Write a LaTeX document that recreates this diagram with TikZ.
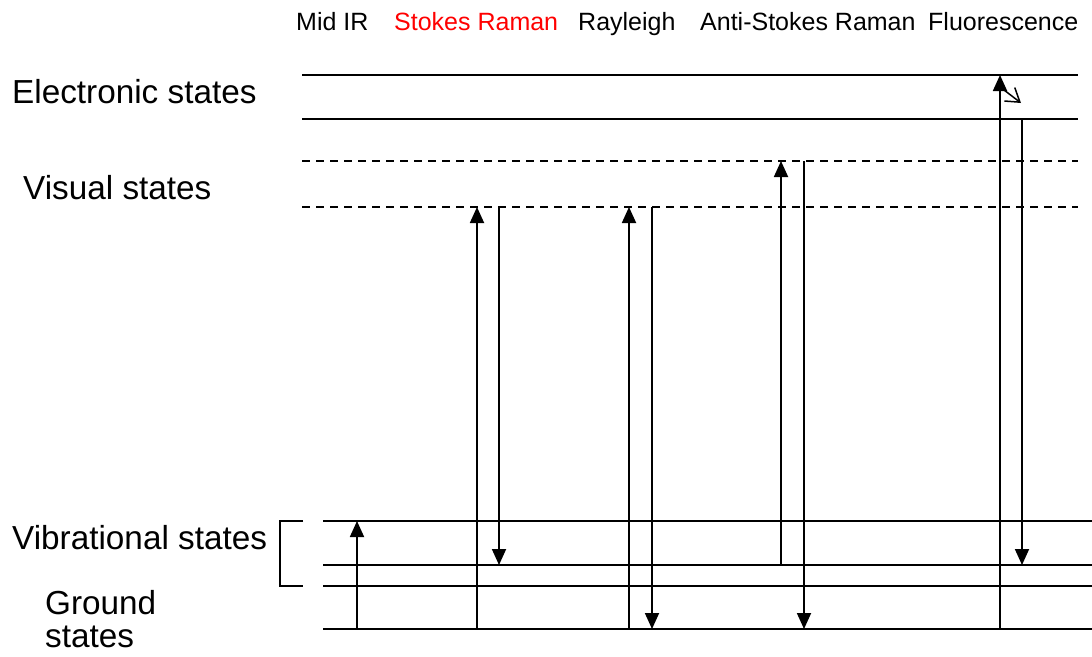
\documentclass[tikz,border=0pt]{standalone}
\usepackage{fontspec}
\setmainfont{Liberation Sans}
\usetikzlibrary{arrows.meta}
\begin{document}
\begin{tikzpicture}[x=1pt,y=-1pt,
  level/.style={line width=1.8pt},
  virtual/.style={line width=1.6pt,dash pattern=on 8pt off 6pt},
  trans/.style={line width=1.8pt,-{Triangle[length=16pt,width=14pt]}},
  toplabel/.style={anchor=base west,inner sep=0pt,font=\fontsize{25}{30}\selectfont},
  sidelabel/.style={anchor=base west,inner sep=0pt,font=\fontsize{33.3}{40}\selectfont}]
\useasboundingbox (0,0) rectangle (1092,656);

% energy levels
\draw[level] (302,75) coordinate (e1a) -- (1078,75) coordinate (e1b);
\draw[level] (302,119) coordinate (e0a) -- (1078,119) coordinate (e0b);
\draw[virtual] (302,161) coordinate (v1a) -- (1078,161) coordinate (v1b);
\draw[virtual] (302,207) coordinate (v0a) -- (1078,207) coordinate (v0b);
\draw[level] (323,521) coordinate (g3a) -- (1092,521) coordinate (g3b);
\draw[level] (323,565) coordinate (g2a) -- (1092,565) coordinate (g2b);
\draw[level] (323,586) coordinate (g1a) -- (1092,586) coordinate (g1b);
\draw[level] (323,629) coordinate (g0a) -- (1092,629) coordinate (g0b);

% bracket around the vibrational manifold
\coordinate (bra) at (303,521);
\coordinate (brb) at (280,521);
\coordinate (brc) at (280,586);
\coordinate (brd) at (303,586);
\draw[line width=1.5pt] (bra) -- (brb) -- (brc) -- (brd);

% Mid IR absorption
\coordinate (ir0) at (357,629);
\coordinate (ir1) at (357,521);
\draw[trans] (ir0) -- (ir1);

% Stokes Raman
\coordinate (st0) at (477,629);
\coordinate (st1) at (477,207);
\coordinate (st2) at (499,207);
\coordinate (st3) at (499,565);
\draw[trans] (st0) -- (st1);
\draw[trans] (st2) -- (st3);

% Rayleigh
\coordinate (ry0) at (629,629);
\coordinate (ry1) at (629,207);
\coordinate (ry2) at (652,207);
\coordinate (ry3) at (652,629);
\draw[trans] (ry0) -- (ry1);
\draw[trans] (ry2) -- (ry3);

% Anti-Stokes Raman
\coordinate (as0) at (781,565);
\coordinate (as1) at (781,161);
\coordinate (as2) at (804,161);
\coordinate (as3) at (804,629);
\draw[trans] (as0) -- (as1);
\draw[trans] (as2) -- (as3);

% Fluorescence, with the small relaxation step inside the excited band
\coordinate (fl0) at (1000,629);
\coordinate (fl1) at (1000,75);
\coordinate (fl2) at (1004,90);
\coordinate (fl3) at (1021,103);
\coordinate (fl4) at (1022,119);
\coordinate (fl5) at (1022,565);
\draw[trans] (fl0) -- (fl1);
\draw[line width=1.5pt,-{Straight Barb[length=13pt,width=17pt,line width=1.5pt]}] (fl2) -- (fl3);
\draw[trans] (fl4) -- (fl5);

% process labels
\node[toplabel] (lir) at (296,30) {Mid IR};
\node[toplabel,text=red] (lst) at (394,30) {Stokes Raman};
\node[toplabel] (lry) at (578,30) {Rayleigh};
\node[toplabel] (las) at (700,30) {Anti-Stokes Raman};
\node[toplabel] (lfl) at (928,30) {Fluorescence};

% state labels
\node[sidelabel] (lel) at (12,103) {Electronic states};
\node[sidelabel] (lvi) at (23,199) {Visual states};
\node[sidelabel] (lvb) at (12,549) {Vibrational states};
\node[sidelabel] (lgr) at (45,614) {Ground};
\node[sidelabel] (lgs) at (45,647) {states};
\end{tikzpicture}
\end{document}
